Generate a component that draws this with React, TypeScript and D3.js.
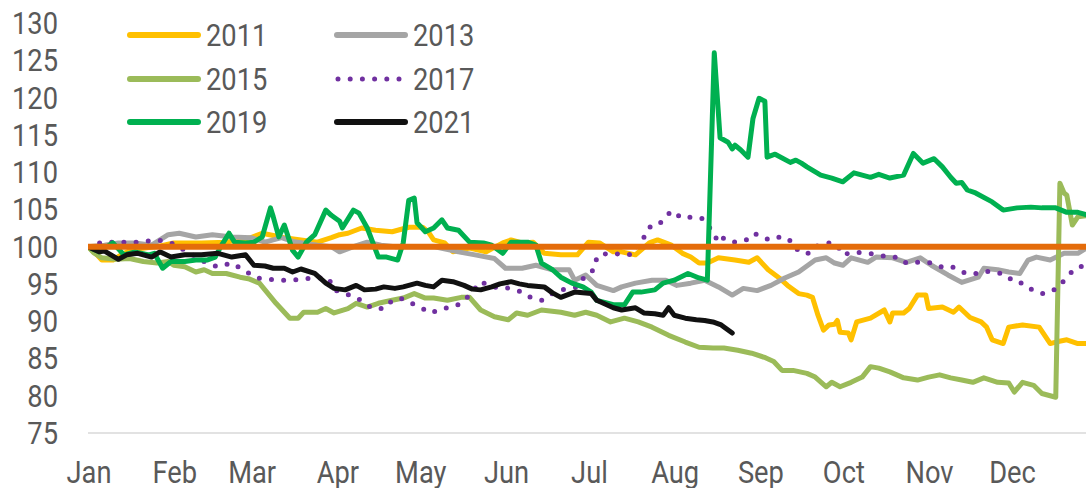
import React from "react";
import * as d3 from "d3";

// day-of-year, index value
const s2011: [number, number][] = [
  [0,100],[3,99],[5,98.2],[9,98.2],[12,98.9],[16,99.6],[25,100],[31,100.5],[41,100.5],[50,100.6],[59,101.2],[63,101.8],[71,101.2],[83,100.6],[88,101.2],[91,101.6],[94,101.8],[99,102.5],[104,102.2],[110,102],[116,102.6],[121,102.6],[123,102],[125,100.9],[129,100.5],[132,99.3],[138,99.8],[144,99.3],[150,100.5],[153,100.9],[157,100.5],[161,100.6],[165,99.1],[171,98.9],[177,98.9],[181,100.6],[185,100.5],[190,99.3],[193,99.3],[198,98.9],[203,100.5],[206,100.9],[211,100.2],[215,99.1],[218,98.6],[221,97.8],[224,97.8],[228,98.5],[234,98.2],[239,97.9],[242,98.5],[246,96.9],[250,95.8],[253,94.8],[257,93.7],[260,93.5],[262,93.2],[264,90.8],[266,88.8],[268,89.5],[270,89.6],[271,90.1],[272,88.5],[275,88.4],[276,87.5],[278,89.9],[283,90.4],[288,91.5],[290,89.9],[291,91.1],[295,91.1],[297,91.7],[300,93.5],[303,93.5],[304,91.7],[309,91.9],[313,91.2],[315,91.9],[319,90.5],[323,89.9],[325,89.2],[327,87.5],[331,87],[333,89.2],[338,89.5],[344,89.2],[348,87],[350,87.2],[354,87.5],[358,87],[362,87]
];
const s2013: [number, number][] = [
  [0,100],[6,100.2],[11,100.5],[17,100.5],[23,100.2],[29,101.6],[33,101.8],[39,101.3],[45,101.6],[52,101.3],[59,101.2],[64,100.6],[70,101.2],[74,100.7],[83,100.2],[88,100],[91,99.3],[96,100],[101,100.6],[106,100.2],[111,100],[119,100],[125,100],[134,99.3],[140,98.9],[147,98.4],[151,97.1],[157,97.1],[162,97.5],[168,96.9],[174,96.9],[176,95.5],[180,96.2],[184,94.8],[190,94.1],[193,94.6],[198,95.1],[204,95.5],[209,95.5],[213,94.8],[218,95.1],[223,95.5],[228,94.6],[233,93.5],[237,94.4],[242,94.1],[247,94.8],[252,95.8],[257,96.6],[263,98.2],[267,98.5],[270,97.8],[273,97.5],[276,98.5],[282,97.9],[285,98.6],[291,98.5],[296,97.9],[301,98.5],[305,97.5],[311,96.2],[316,95.2],[322,95.9],[324,97.1],[329,96.9],[333,96.6],[337,96.4],[340,98.2],[343,98.6],[348,98.2],[353,99.1],[358,99.1],[362,100]
];
const s2015: [number, number][] = [
  [0,100],[2,99.2],[5,98.5],[10,98.3],[15,98.4],[20,98],[25,97.8],[29,98],[31,97.5],[35,97.3],[39,96.6],[42,96.9],[45,96.4],[50,96.4],[55,95.9],[58,95.7],[62,95.1],[64,94.2],[68,92.4],[71,91.2],[73,90.4],[76,90.4],[78,91.2],[83,91.2],[86,91.7],[89,91.1],[94,91.7],[97,92.4],[101,91.9],[105,92.4],[110,92.8],[114,93.1],[118,93.7],[122,93.1],[125,93.1],[130,92.8],[135,93.2],[138,93.2],[142,91.5],[147,90.6],[152,90.2],[155,91.1],[159,90.8],[164,91.5],[171,91.2],[176,90.8],[180,91.2],[184,90.8],[189,89.9],[194,90.4],[199,89.9],[204,89.2],[210,88.1],[216,87.2],[221,86.5],[226,86.4],[230,86.4],[235,86.1],[240,85.7],[245,85.1],[248,84.6],[251,83.4],[255,83.4],[260,83],[263,82.5],[267,81.2],[269,81.8],[272,81.2],[276,81.8],[280,82.5],[283,83.9],[286,83.7],[290,83.2],[295,82.4],[300,82.1],[304,82.5],[308,82.8],[312,82.4],[316,82.1],[320,81.8],[324,82.4],[329,81.8],[333,81.7],[335,80.5],[338,81.8],[342,81.4],[345,80.3],[350,79.8],[351.5,108.5],[353,107.2],[354,106.9],[356,102.9],[358,104],[362,104.2]
];
const s2017: [number, number][] = [
  [0,100],[5,100.6],[18,100.6],[25,100.9],[30,100.5],[35,99.5],[43,97.8],[47,97.3],[52,97.8],[56,96.9],[61,95.8],[69,95.5],[73,95.5],[82,95.8],[87,95.8],[89,94.2],[97,93.2],[100,92.4],[103,91.7],[107,91.7],[110,92.8],[113,93.1],[117,92.4],[121,91.7],[124,91.1],[128,91.7],[132,91.9],[135,92.4],[138,93.5],[142,95.3],[146,94.6],[153,94.4],[157,93.9],[160,93.2],[164,92.8],[168,93.7],[171,94.2],[177,94.6],[180,96.2],[183,96.9],[184,98.5],[186,99.1],[189,98.9],[193,99.1],[197,98.9],[199,100.5],[201,101.2],[203,102.6],[206,102.8],[209,104],[211,104.8],[215,103.8],[219,104],[222,103.8],[226,102],[228,100.5],[230,101.2],[234,100.6],[238,100.9],[241,101.8],[244,101.2],[247,100.9],[251,101.4],[255,100.6],[257,99.3],[261,99.1],[264,100.2],[268,100.5],[271,100.2],[273,98.9],[277,99.3],[282,99.1],[286,98.9],[290,98.5],[293,98.6],[296,97.8],[300,97.9],[304,97.9],[308,97.3],[312,97.4],[316,96.6],[320,96.3],[324,96.7],[328,96.6],[332,96.2],[335,95.2],[338,95.1],[341,94.3],[345,93.7],[348,93.9],[351,94.6],[354,95.9],[357,97.1],[361,97.5]
];
const s2019: [number, number][] = [
  [0,100],[4,99.3],[9,100.5],[13,98.9],[17,99.3],[22,98.9],[24,99.1],[27,97.1],[30,98],[35,98],[39,98.2],[43,98.2],[46,98.6],[48,100],[51,101.8],[53,100.6],[57,100.5],[60,100.6],[63,101.3],[66,105.2],[67,104],[69,101.3],[71,102.9],[74,99.5],[76,98.6],[79,100.6],[82,101.6],[86,104.9],[88,104.2],[91,103.4],[92,102.5],[96,104.9],[98,104.5],[101,102.5],[105,98.6],[108,98.6],[112,98.2],[114,100.5],[116,106.2],[118,106.5],[119,103.2],[122,102],[125,102.5],[128,103.6],[130,102.5],[134,102.2],[138,100.6],[143,100.5],[146,100.2],[150,99.1],[153,100.6],[159,100.6],[162,100.2],[164,97.8],[168,96.9],[171,95.9],[175,95.1],[179,94.6],[182,93.9],[184,92.8],[190,92.2],[194,92.2],[197,93.9],[200,93.9],[205,94.2],[208,95.1],[212,95.5],[217,96.4],[221,95.8],[224,95.5],[226.5,126],[228.6,114.6],[231.5,114],[233,113.1],[234,113.6],[236,113],[238.7,112],[240.5,117.2],[242.7,119.9],[244.8,119.5],[245.6,112],[248.5,112.4],[254,111.3],[256,111.6],[258,111.2],[260,110.7],[265,109.6],[269,109.2],[273,108.7],[277,109.9],[283,109.3],[286,109.7],[290,109.2],[295,109.6],[298.5,112.5],[302,111.2],[306,111.8],[309,110.7],[312,109.3],[314,108.5],[316,108.6],[318,107.6],[321,107.2],[327,106],[331,104.9],[336,105.2],[341,105.3],[345,105.2],[350,105.2],[354,104.6],[358,104.6],[362,104.2]
];
const s2021: [number, number][] = [
  [0,100],[4,99.3],[6,99.4],[11,98.3],[14,98.9],[18,99.1],[23,98.6],[26,99.3],[30,98.6],[35,98.9],[41,98.9],[47,99.1],[52,98.6],[57,98.9],[60,97.5],[64,97.4],[67,97.1],[71,97.1],[74,96.6],[77,97],[82,96.4],[86,95.1],[89,94.4],[93,94.2],[97,94.8],[100,94.2],[104,94.3],[107,94.6],[111,94.4],[114,94.6],[119,95.1],[122,94.8],[125,94.6],[128,95.5],[132,95.3],[136,94.8],[139,94.3],[142,94.2],[146,94.6],[149,95],[153,95.3],[156,95],[159,94.8],[162,94.7],[165,94.6],[168,93.8],[171,93.2],[176,93.9],[182,93.7],[184,92.8],[187,92.3],[190,91.8],[193,91.5],[198,91.8],[201,91.1],[205,91],[208,90.8],[210,91.8],[212,90.8],[216,90.4],[220,90.2],[223,90.1],[226,89.9],[229,89.5],[233,88.4]
];
const baseline: [number, number][] = [[0,100],[365,100]];

const monthLabels = ["Jan","Feb","Mar","Apr","May","Jun","Jul","Aug","Sep","Oct","Nov","Dec"];
const monthStarts = [0,31,59,90,120,151,181,212,243,273,304,334];
const yTicks = [75,80,85,90,95,100,105,110,115,120,125,130];

const series = [
  { name: "2011", data: s2011, color: "#FFC000", dotted: false, width: 5 },
  { name: "2013", data: s2013, color: "#A5A5A5", dotted: false, width: 5 },
  { name: "2015", data: s2015, color: "#9BBB59", dotted: false, width: 5 },
  { name: "2017", data: s2017, color: "#7030A0", dotted: true, width: 5 },
  { name: "2019", data: s2019, color: "#00B050", dotted: false, width: 5 },
  { name: "2021", data: s2021, color: "#111111", dotted: false, width: 5 },
];

const W = 1086, H = 488;
const FONT = "Roboto, 'Noto Sans', sans-serif";
const TXT = "#595959";
const SX = 0.88;

export default function App() {
  const x = d3.scaleLinear().domain([0, 365]).range([88, 88 + 365 * 2.765]);
  const y = d3.scaleLinear().domain([75, 130]).range([433, 23]);
  const line = d3.line<[number, number]>().x(d => x(d[0])).y(d => y(d[1]));

  const legendItems = [
    { s: series[0], lx: 130, tx: 206, cy: 35 },
    { s: series[1], lx: 337, tx: 413, cy: 35 },
    { s: series[2], lx: 130, tx: 206, cy: 79 },
    { s: series[3], lx: 337, tx: 413, cy: 79 },
    { s: series[4], lx: 130, tx: 206, cy: 122 },
    { s: series[5], lx: 337, tx: 413, cy: 122 },
  ];

  return (
    <svg width={W} height={H} style={{ position: "absolute", left: 0, top: 0, background: "#fff" }} fontFamily={FONT}>
      <defs>
        <clipPath id="plot"><rect x={88} y={0} width={W - 88} height={440} /></clipPath>
      </defs>
      <rect x={0} y={0} width={W} height={H} fill="#fff" />
      {yTicks.map(t => (
        <text key={t} transform={`translate(58,${y(t) + 11}) scale(${SX},1)`} textAnchor="end" fontSize={31} fill={TXT}>{t}</text>
      ))}
      <line x1={88} x2={W} y1={433} y2={433} stroke="#D9D9D9" strokeWidth={1.5} />
      {monthLabels.map((m, i) => (
        <text key={m} transform={`translate(${x(monthStarts[i]) + 1},483) scale(${SX},1)`} textAnchor="middle" fontSize={31} fill={TXT}>{m}</text>
      ))}
      <g clipPath="url(#plot)">
        {series.map(s => (
          <path key={s.name} d={line(s.data) || ""} fill="none" stroke={s.color} strokeWidth={s.width}
            strokeLinejoin="round" strokeLinecap="round"
            strokeDasharray={s.dotted ? "0 12.2" : undefined} />
        ))}
        <path d={line(baseline) || ""} fill="none" stroke="#E46C0A" strokeWidth={6} />
      </g>
      {legendItems.map(({ s, lx, tx, cy }) => (
        <g key={s.name}>
          <line x1={s.dotted ? 338 : lx} x2={s.dotted ? 400 : lx + 68} y1={cy} y2={cy} stroke={s.color} strokeWidth={s.dotted ? 5 : 6}
            strokeLinecap="round" strokeDasharray={s.dotted ? "0 12.2" : undefined} />
          <text transform={`translate(${tx},${cy + 11}) scale(${SX},1)`} fontSize={31} fill={TXT}>{s.name}</text>
        </g>
      ))}
    </svg>
  );
}
